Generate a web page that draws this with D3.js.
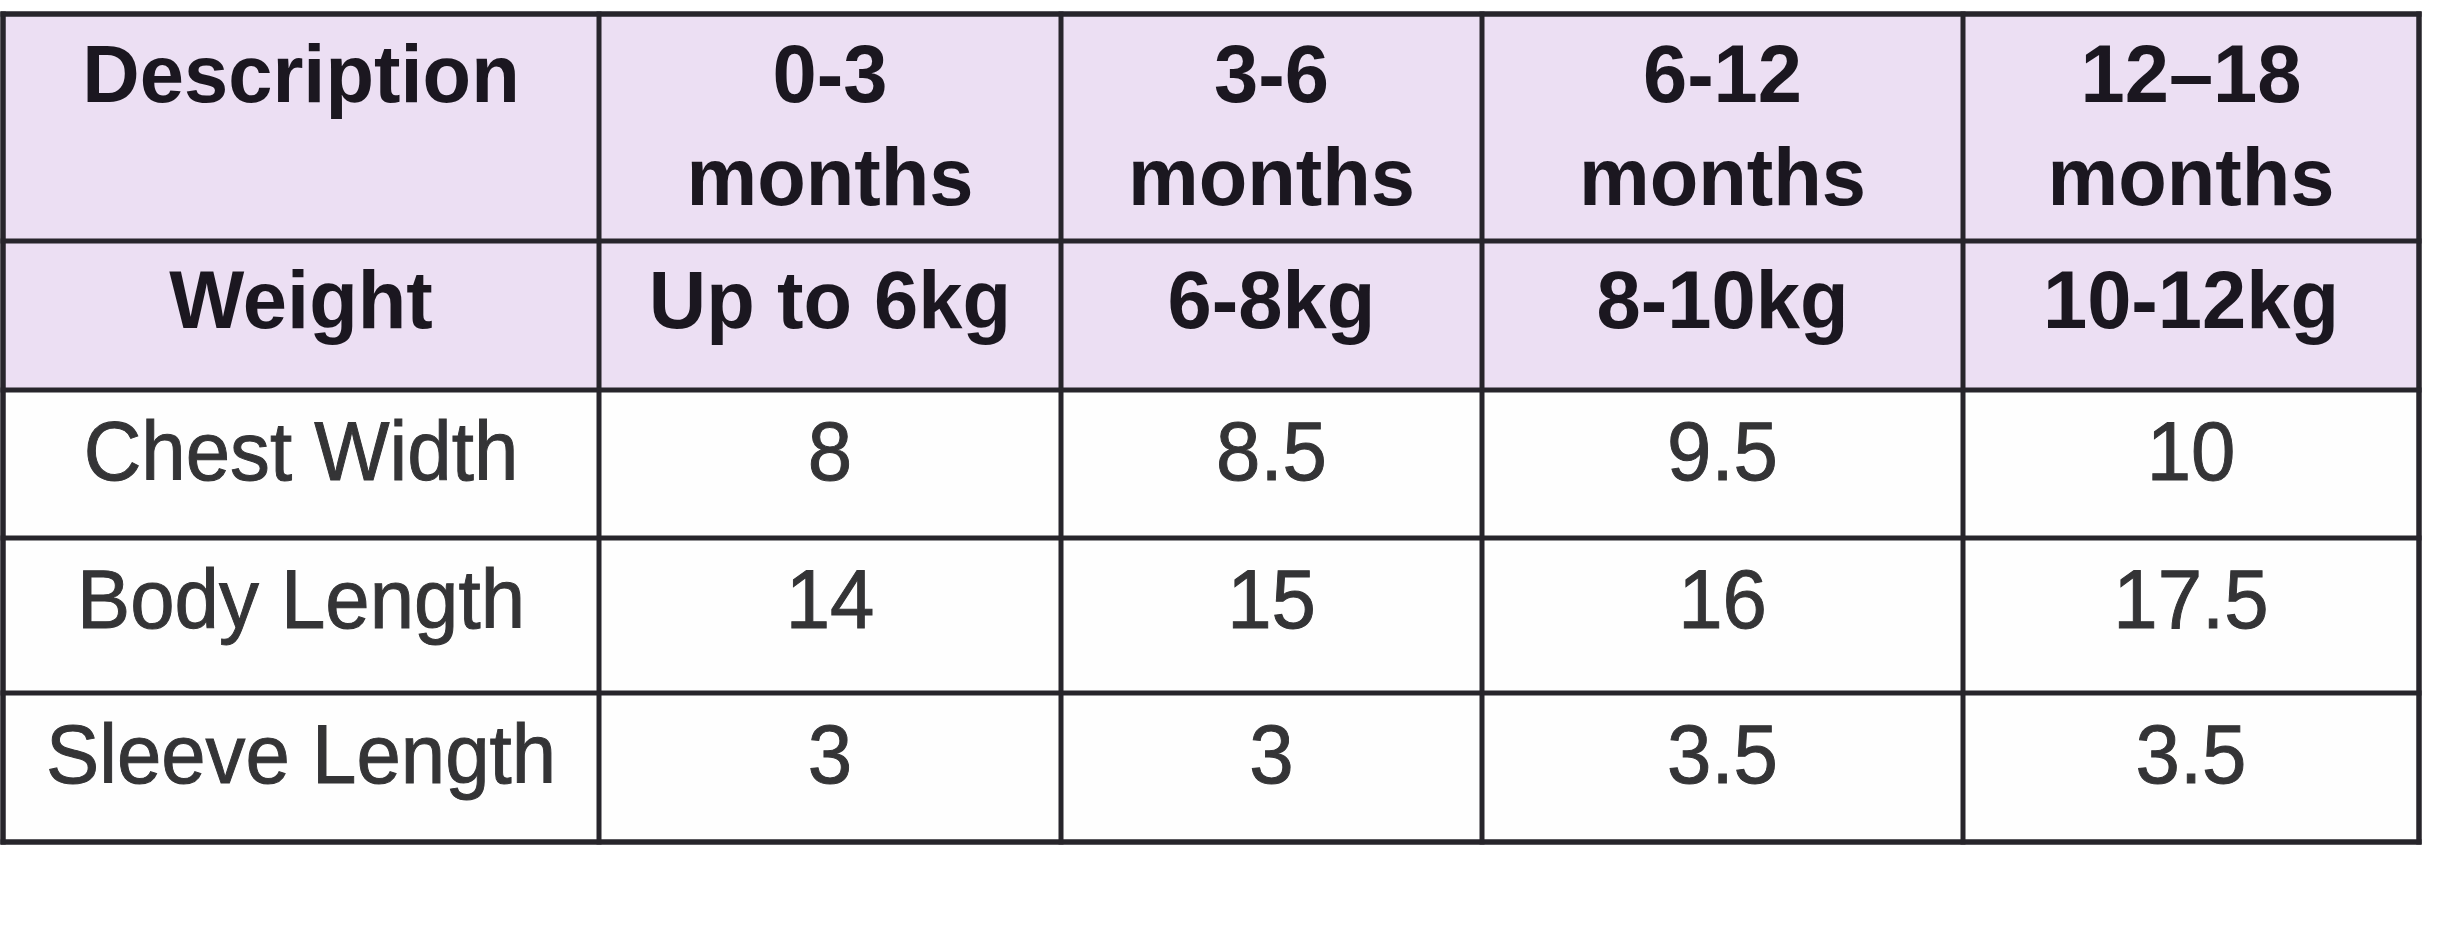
<!DOCTYPE html>
<html>
<head>
<meta charset="utf-8">
<script src="https://cdn.jsdelivr.net/npm/d3@7"></script>
<style>
  html, body { margin: 0; padding: 0; background: #fff; }
  svg { display: block; }
</style>
</head>
<body>
<div id="app"></div>
<script>
// table content
const firstColumn = ["Description", "Weight", "Chest Width", "Body Length", "Sleeve Length"];
const ageGroups = ["0-3 months", "3-6 months", "6-12 months", "12–18 months"];
const weights = ["Up to 6kg", "6-8kg", "8-10kg", "10-12kg"];
const chestWidth = [8, 8.5, 9.5, 10];
const bodyLength = [14, 15, 16, 17.5];
const sleeveLength = [3, 3, 3.5, 3.5];

const width = 2437;
const height = 925;

// column / row edges (piecewise scales)
const x = d3.scaleLinear()
  .domain(d3.range(6))
  .range([3, 599, 1061, 1482, 1963, 2419]);
const y = d3.scaleLinear()
  .domain(d3.range(6))
  .range([14, 241, 390, 538, 693, 842]);

const headerFill = "#ecdff3";
const lineColor = "#27252b";

// rows as arrays of cell texts
const rows = [
  [firstColumn[0], ...ageGroups],
  [firstColumn[1], ...weights],
  [firstColumn[2], ...chestWidth.map(String)],
  [firstColumn[3], ...bodyLength.map(String)],
  [firstColumn[4], ...sleeveLength.map(String)]
];

const cells = [];
rows.forEach((row, r) => {
  row.forEach((txt, c) => cells.push({ r, c, txt, header: r < 2 }));
});

const svg = d3.select('#app')
  .append('svg')
  .attr('width', width)
  .attr('height', height);

svg.append('rect')
  .attr('width', width)
  .attr('height', height)
  .attr('fill', '#ffffff');

// cell backgrounds
svg.selectAll('rect.cell')
  .data(cells)
  .enter()
  .append('rect')
  .attr('class', 'cell')
  .attr('x', d => x(d.c))
  .attr('y', d => y(d.r))
  .attr('width', d => x(d.c + 1) - x(d.c))
  .attr('height', d => y(d.r + 1) - y(d.r))
  .attr('fill', d => d.header ? headerFill : '#fefefe');

// cell texts
const label = svg.selectAll('g.label')
  .data(cells)
  .enter()
  .append('g')
  .attr('class', 'label')
  .attr('transform', d => {
    const sx = d.header ? 0.97 : 0.95;
    return `translate(${x(d.c + 0.5)},${y(d.r) + (d.r === 0 ? 88 : d.r === 1 ? 87 : 90)}) scale(${sx},1)`;
  });

label.append('text')
  .attr('text-anchor', 'middle')
  .attr('font-family', "'Liberation Sans', Arial, sans-serif")
  .attr('font-size', d => d.header ? 82 : 84)
  .attr('font-weight', d => d.header ? 'bold' : 'normal')
  .attr('fill', d => d.header ? '#1b1720' : '#343436')
  .attr('stroke', d => d.header ? 'none' : '#343436')
  .attr('stroke-width', 1)
  .each(function(d) {
    const t = d3.select(this);
    const parts = (d.r === 0 && d.c > 0) ? d.txt.split(' ') : [d.txt];
    parts.forEach((p, i) => {
      t.append('tspan')
        .attr('x', 0)
        .attr('y', i * 103)
        .text(p);
    });
  });

// grid lines
const vLines = d3.range(6);
const hLines = d3.range(6);

svg.selectAll('line.v')
  .data(vLines)
  .enter()
  .append('line')
  .attr('class', 'v')
  .attr('x1', d => x(d))
  .attr('x2', d => x(d))
  .attr('y1', y(0) - 2.5)
  .attr('y2', y(5) + 2.5)
  .attr('stroke', lineColor)
  .attr('stroke-width', d => (d === 0 || d === 5) ? 5.5 : 5);

svg.selectAll('line.h')
  .data(hLines)
  .enter()
  .append('line')
  .attr('class', 'h')
  .attr('x1', x(0) - 2.5)
  .attr('x2', x(5) + 2.5)
  .attr('y1', d => y(d))
  .attr('y2', d => y(d))
  .attr('stroke', lineColor)
  .attr('stroke-width', d => (d === 0 || d === 5) ? 5.5 : 5);
</script>
</body>
</html>
